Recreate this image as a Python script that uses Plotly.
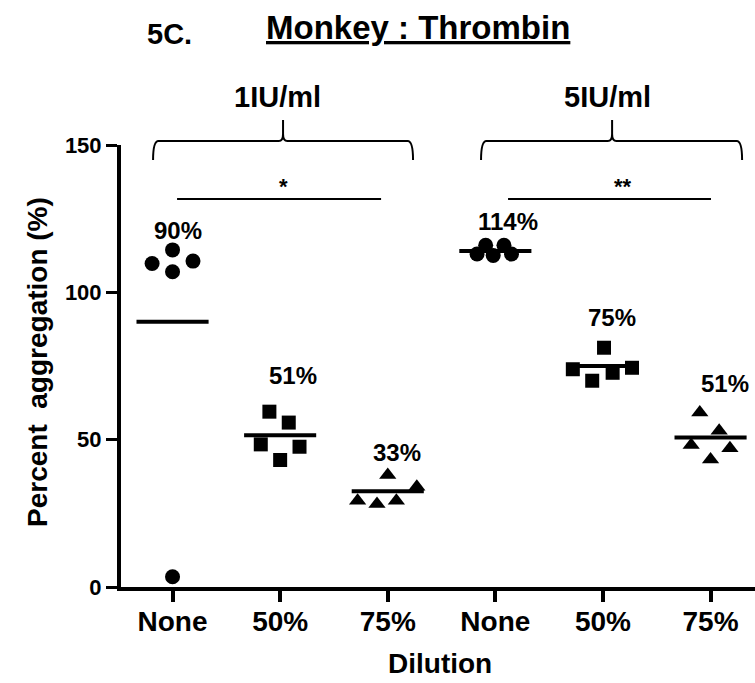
import plotly.graph_objects as go

# ---------------- data ----------------
categories = ["None", "50%", "75%", "None", "50%", "75%"]
concentrations = ["1IU/ml", "5IU/ml"]

none_1iu = [114.4, 109.8, 110.6, 107.0, 3.5]
d50_1iu = [59.5, 55.8, 48.4, 47.6, 43.1]
d75_1iu = [38.0, 34.0, 29.3, 28.2, 29.3]
none_5iu = [113.0, 116.0, 112.5, 116.0, 113.0]
d50_5iu = [81.2, 73.9, 70.0, 72.7, 74.4]
d75_5iu = [59.2, 53.0, 48.2, 47.1, 43.3]

# horizontal scatter (jitter) of each point within its column, in category units
jitter_none_1iu = [0.0, -0.19, 0.19, 0.0, 0.0]
jitter_50_1iu = [-0.10, 0.08, -0.18, 0.18, 0.0]
jitter_75_1iu = [0.0, 0.27, -0.28, -0.10, 0.08]
jitter_none_5iu = [-0.17, -0.09, -0.02, 0.08, 0.15]
jitter_50_5iu = [0.01, -0.28, -0.10, 0.09, 0.27]
jitter_75_5iu = [-0.10, 0.08, -0.18, 0.18, 0.0]

means = [90.0, 51.5, 32.5, 114.0, 75.0, 50.7]
mean_labels = ["90%", "51%", "33%", "114%", "75%", "51%"]
significance = ["*", "**"]

yticks = [0, 50, 100, 150]

# ---------------- figure ----------------
FONT = "Liberation Sans, Arial, sans-serif"
fig = go.Figure()

groups = [
    (none_1iu, jitter_none_1iu, "circle", 15),
    (d50_1iu, jitter_50_1iu, "square", 14),
    (d75_1iu, jitter_75_1iu, "triangle-up", 15),
    (none_5iu, jitter_none_5iu, "circle", 15),
    (d50_5iu, jitter_50_5iu, "square", 14),
    (d75_5iu, jitter_75_5iu, "triangle-up", 15),
]

for i, (vals, jit, sym, sz) in enumerate(groups):
    fig.add_trace(go.Scatter(
        x=[i + j for j in jit], y=vals, mode="markers",
        marker=dict(symbol=sym, size=sz, color="black", line=dict(width=0)),
        cliponaxis=False, showlegend=False, hoverinfo="skip"))

# mean bars
half = 0.335
for i, m in enumerate(means):
    fig.add_trace(go.Scatter(
        x=[i - half, i + half], y=[m, m], mode="lines",
        line=dict(color="black", width=4), showlegend=False,
        cliponaxis=False, hoverinfo="skip"))

# mean labels
label_pos = [(0.05, 121.1), (1.12, 71.9), (2.09, 45.8),
             (3.12, 124.2), (4.08, 91.6), (5.13, 69.2)]
for (lx, ly), txt in zip(label_pos, mean_labels):
    fig.add_annotation(x=lx, y=ly, xref="x", yref="y", text=txt, showarrow=False,
                       font=dict(family=FONT, size=24, color="black", weight="bold"))

# braces above each concentration group
def py(p):
    return (587 - p) / 442.0

def brace(x0, x1, xc):
    yb, yh, yp = py(160), py(141), py(120)
    rx, rxs = 0.05, 0.04
    ry = py(134)
    return (f"M {x0},{yb} Q {x0},{yh} {x0+rx},{yh} L {xc-rxs},{yh} "
            f"Q {xc},{yh} {xc},{ry} L {xc},{yp} M {xc},{ry} Q {xc},{yh} {xc+rxs},{yh} "
            f"L {x1-rx},{yh} Q {x1},{yh} {x1},{yb}")

brace_specs = [(-0.181, 2.235, 1.027), (2.867, 5.293, 4.085)]
for (x0, x1, xc) in brace_specs:
    fig.add_shape(type="path", xref="x", yref="paper", path=brace(x0, x1, xc),
                  line=dict(color="black", width=2))

conc_x = [277, 607]
for cx, txt in zip(conc_x, concentrations):
    fig.add_annotation(x=(cx - 121) / 634, y=py(97), xref="paper", yref="paper",
                       text=txt, showarrow=False, xanchor="center", yanchor="middle",
                       font=dict(family=FONT, size=29, color="black", weight="bold"))

# significance lines
sig_specs = [(0.042, 1.938, 1.027), (3.118, 5.004, 4.19)]
for (x0, x1, xs), star in zip(sig_specs, significance):
    fig.add_shape(type="line", xref="x", yref="paper", x0=x0, x1=x1,
                  y0=py(199), y1=py(199), line=dict(color="black", width=2))
    fig.add_annotation(x=xs, y=py(186), xref="x", yref="paper", text=star,
                       showarrow=False, yanchor="middle",
                       font=dict(family=FONT, size=22, color="black", weight="bold"))

# titles
fig.add_annotation(x=(169 - 121) / 634, y=py(34), xref="paper", yref="paper",
                   text="5C.", showarrow=False, xanchor="center", yanchor="middle",
                   font=dict(family=FONT, size=29, color="black", weight="bold"))
fig.add_annotation(x=(418 - 121) / 634, y=py(27), xref="paper", yref="paper",
                   text="<u>Monkey : Thrombin</u>", showarrow=False,
                   xanchor="center", yanchor="middle",
                   font=dict(family=FONT, size=33, color="black", weight="bold"))
fig.add_annotation(x=(37 - 121) / 634, y=py(362), xref="paper", yref="paper",
                   text="Percent  aggregation (%)", showarrow=False, textangle=-90,
                   xanchor="center", yanchor="middle",
                   font=dict(family=FONT, size=28, color="black", weight="bold"))
fig.add_annotation(x=(440 - 121) / 634, y=py(663), xref="paper", yref="paper",
                   text="Dilution", showarrow=False, xanchor="center", yanchor="middle",
                   font=dict(family=FONT, size=28, color="black", weight="bold"))

fig.update_layout(
    width=755, height=683,
    margin=dict(l=121, r=0, t=145, b=96),
    paper_bgcolor="white", plot_bgcolor="white",
    showlegend=False,
    xaxis=dict(range=[-0.479, 5.413], tickmode="array",
               tickvals=list(range(len(categories))), ticktext=categories,
               showline=True, linecolor="black", linewidth=4,
               ticks="outside", ticklen=11, tickwidth=4, tickcolor="black",
               ticklabelstandoff=-5,
               showgrid=False, zeroline=False,
               tickfont=dict(family=FONT, size=28, color="black", weight="bold")),
    yaxis=dict(range=[0, 150], tickmode="array", tickvals=yticks,
               showline=True, linecolor="black", linewidth=4,
               ticks="outside", ticklen=11, tickwidth=3, tickcolor="black",
               showgrid=False, zeroline=False,
               tickfont=dict(family=FONT, size=22, color="black", weight="bold")),
)

fig.write_html("out.html")
